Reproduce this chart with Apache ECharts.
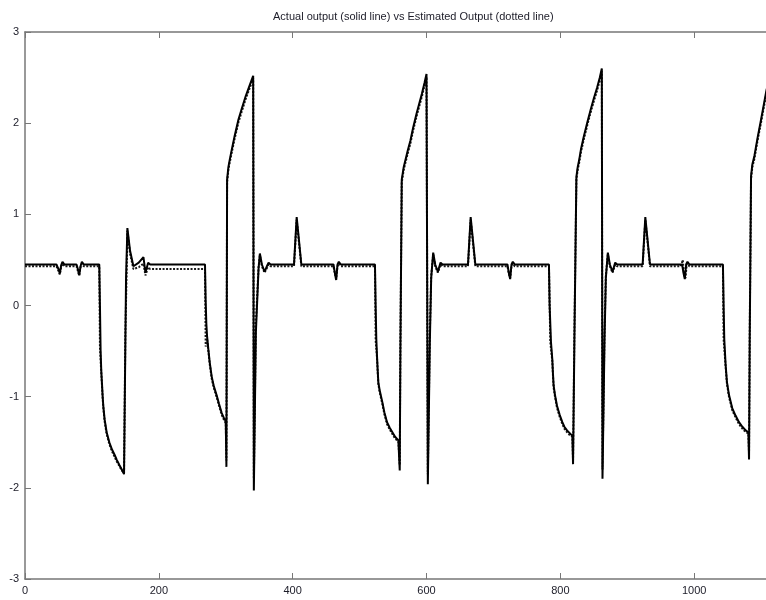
<!DOCTYPE html>
<html>
<head>
<meta charset="utf-8">
<script src="https://cdn.jsdelivr.net/npm/echarts@6/dist/echarts.min.js"></script>
<style>
  html, body { margin: 0; padding: 0; background: #fff; }
  #chart { width: 766px; height: 600px; }
</style>
</head>
<body>
<div id="chart"></div>
<script>
// Plot title
const chartTitle = 'Actual output (solid line) vs Estimated Output (dotted line)';

// Axis ranges and tick spacing
const xRange = [0, 1200];
const xStep = 200;
const yRange = [-3, 3];
const yStep = 1;

// Measured plant output: [sample, value]
const actualOutput = [
  [0, 0.45], [47, 0.45], [50, 0.40], [52, 0.35], [54, 0.44], [56, 0.48], [59, 0.45],
  [77, 0.45], [79, 0.40], [81, 0.33], [83, 0.43], [85, 0.48], [88, 0.45],
  [111, 0.45], [112, 0.0], [113, -0.5], [114, -0.72], [115, -0.85], [116, -0.99], [117, -1.10],
  [119, -1.25], [122, -1.39], [126, -1.50], [130, -1.58], [134, -1.64], [137, -1.69],
  [141, -1.75], [144, -1.79], [148, -1.85],
  [150, -0.4], [151, 0.3], [153, 0.85], [157, 0.6], [162, 0.43], [170, 0.47], [177, 0.53],
  [180, 0.36], [184, 0.47], [187, 0.45],
  [269, 0.45], [270, 0.05], [271, -0.2], [272, -0.33], [274, -0.48], [276, -0.62], [279, -0.78],
  [282, -0.88], [287, -1.0], [290, -1.08], [294, -1.18], [297, -1.23], [300, -1.27], [301, -1.77],
  [302, 1.38], [304, 1.52], [306, 1.6], [309, 1.71], [313, 1.85], [319, 2.04], [324, 2.16],
  [330, 2.3], [336, 2.42], [341, 2.52],
  [342, -2.03], [345, -0.3], [349, 0.4], [351, 0.57], [354, 0.45], [358, 0.37], [362, 0.44], [364, 0.47], [367, 0.45],
  [402, 0.45], [406, 0.97], [413, 0.45],
  [461, 0.45], [463, 0.36], [465, 0.28], [467, 0.45], [469, 0.48], [472, 0.45],
  [523, 0.45], [524, 0.0], [525, -0.37], [526, -0.55], [527, -0.70], [528, -0.84], [530, -0.93],
  [534, -1.06], [537, -1.17], [541, -1.28], [545, -1.34], [549, -1.39], [553, -1.44], [558, -1.48], [560, -1.81],
  [561, -0.5], [563, 1.38], [566, 1.52], [568, 1.58], [572, 1.70], [576, 1.81], [580, 1.95],
  [585, 2.1], [589, 2.21], [593, 2.32], [597, 2.44], [600, 2.54],
  [602, -1.96], [605, -0.4], [607, 0.3], [610, 0.58], [613, 0.45], [617, 0.37], [621, 0.47], [624, 0.45],
  [662, 0.45], [666, 0.97], [673, 0.45],
  [721, 0.45], [723, 0.36], [725, 0.29], [727, 0.45], [729, 0.48], [732, 0.45],
  [783, 0.45], [784, 0.0], [786, -0.4], [788, -0.59], [789, -0.75], [790, -0.88], [792, -0.98],
  [795, -1.1], [799, -1.2], [803, -1.28], [806, -1.33], [810, -1.37], [814, -1.40], [818, -1.43], [819, -1.74],
  [821, -0.4], [824, 1.41], [826, 1.52], [828, 1.59], [831, 1.72], [835, 1.85], [840, 2.0],
  [845, 2.14], [850, 2.27], [855, 2.39], [859, 2.5], [862, 2.6],
  [863, -1.9], [866, -0.4], [868, 0.3], [871, 0.58], [874, 0.45], [878, 0.37], [882, 0.47], [885, 0.45],
  [923, 0.45], [927, 0.97], [934, 0.45],
  [982, 0.45], [984, 0.36], [986, 0.29], [988, 0.45], [990, 0.48], [993, 0.45],
  [1043, 0.45], [1044, 0.0], [1045, -0.37], [1047, -0.65], [1049, -0.84], [1052, -0.98], [1057, -1.13],
  [1062, -1.21], [1067, -1.28], [1072, -1.33], [1077, -1.37], [1081, -1.39], [1082, -1.69],
  [1083, -0.4], [1085, 1.42], [1087, 1.55], [1090, 1.64], [1095, 1.85], [1100, 2.04],
  [1104, 2.2], [1108, 2.36], [1113, 2.5], [1118, 2.62]
];

// Model estimate of the same output: [sample, value]
const estimatedOutput = [
  [0, 0.43], [47, 0.43], [50, 0.38], [52, 0.34], [54, 0.42], [56, 0.46], [59, 0.43],
  [77, 0.43], [79, 0.38], [81, 0.33], [83, 0.42], [85, 0.46], [88, 0.43],
  [111, 0.43], [112, -0.46], [114, -0.74], [115, -0.87], [116, -1.01], [117, -1.12],
  [119, -1.27], [122, -1.41], [126, -1.52], [130, -1.60], [134, -1.66], [137, -1.71],
  [141, -1.76], [144, -1.80], [148, -1.84],
  [150, -0.3], [152, 0.4], [153, 0.82], [157, 0.57], [162, 0.40], [170, 0.42], [177, 0.46],
  [180, 0.33], [184, 0.42], [187, 0.40],
  [269, 0.40], [270, -0.45], [272, -0.36], [274, -0.50], [276, -0.64], [279, -0.80],
  [282, -0.90], [287, -1.02], [290, -1.10], [294, -1.20], [297, -1.25], [300, -1.29], [301, -1.70],
  [302, 1.35], [304, 1.49], [306, 1.57], [309, 1.68], [313, 1.82], [319, 2.01], [324, 2.13],
  [330, 2.27], [336, 2.39], [341, 2.49],
  [342, -1.90], [345, -0.2], [349, 0.42], [351, 0.55], [354, 0.43], [358, 0.36], [362, 0.42], [364, 0.45], [367, 0.43],
  [402, 0.43], [406, 0.94], [413, 0.43],
  [461, 0.43], [463, 0.35], [465, 0.29], [467, 0.43], [469, 0.46], [472, 0.43],
  [523, 0.43], [524, -0.38], [526, -0.57], [527, -0.72], [528, -0.86], [530, -0.95],
  [534, -1.08], [537, -1.19], [541, -1.30], [545, -1.36], [549, -1.41], [553, -1.46], [558, -1.49], [560, -1.75],
  [561, -0.4], [563, 1.35], [566, 1.49], [568, 1.55], [572, 1.67], [576, 1.78], [580, 1.92],
  [585, 2.07], [589, 2.18], [593, 2.29], [597, 2.41], [600, 2.51],
  [602, -1.85], [605, -0.3], [607, 0.32], [610, 0.56], [613, 0.43], [617, 0.36], [621, 0.45], [624, 0.43],
  [662, 0.43], [666, 0.94], [673, 0.43],
  [721, 0.43], [723, 0.35], [725, 0.30], [727, 0.43], [729, 0.46], [732, 0.43],
  [783, 0.43], [785, -0.40], [788, -0.61], [789, -0.77], [790, -0.90], [792, -1.00],
  [795, -1.12], [799, -1.22], [803, -1.30], [806, -1.35], [810, -1.39], [814, -1.42], [818, -1.44], [819, -1.70],
  [821, -0.3], [824, 1.38], [826, 1.49], [828, 1.56], [831, 1.69], [835, 1.82], [840, 1.97],
  [845, 2.11], [850, 2.24], [855, 2.36], [859, 2.47], [862, 2.57],
  [863, -1.80], [866, -0.3], [868, 0.32], [871, 0.56], [874, 0.43], [878, 0.36], [882, 0.45], [885, 0.43],
  [923, 0.43], [927, 0.94], [934, 0.43],
  [980, 0.43], [983, 0.50], [985, 0.33], [987, 0.30], [989, 0.46], [993, 0.43],
  [1043, 0.43], [1044, -0.37], [1047, -0.67], [1049, -0.86], [1052, -1.00], [1057, -1.15],
  [1062, -1.23], [1067, -1.30], [1072, -1.35], [1077, -1.39], [1081, -1.40], [1082, -1.62],
  [1083, -0.3], [1085, 1.39], [1087, 1.52], [1090, 1.61], [1095, 1.82], [1100, 2.01],
  [1104, 2.17], [1108, 2.33], [1113, 2.47], [1118, 2.59]
];

const frameColor = '#777777';
const fontFamily = 'Liberation Sans, Arial, sans-serif';
const textColor = '#1c1c28';

function frameAxis(position, showLabels) {
  return {
    type: 'value',
    position: position,
    axisLine: { show: true, onZero: false, lineStyle: { color: frameColor, width: 1.5 } },
    axisTick: { show: true, inside: true, length: 6, lineStyle: { color: frameColor, width: 1 } },
    axisLabel: {
      show: showLabels,
      margin: 6,
      showMaxLabel: position !== 'bottom',
      fontFamily: fontFamily,
      fontSize: 11,
      color: textColor,
      formatter: function (v) { return String(v); }
    },
    splitLine: { show: false }
  };
}

const xBottom = Object.assign(frameAxis('bottom', true), { min: xRange[0], max: xRange[1], interval: xStep });
const xTop = Object.assign(frameAxis('top', false), { min: xRange[0], max: xRange[1], interval: xStep });
const yLeft = Object.assign(frameAxis('left', true), { min: yRange[0], max: yRange[1], interval: yStep });
const yRight = Object.assign(frameAxis('right', false), { min: yRange[0], max: yRange[1], interval: yStep });

const chart = echarts.init(document.getElementById('chart'), null, { renderer: 'canvas' });
chart.setOption({
  animation: false,
  backgroundColor: '#ffffff',
  title: {
    text: chartTitle,
    left: 273,
    top: 11,
    padding: 0,
    textStyle: { fontFamily: fontFamily, fontSize: 11, fontWeight: 'normal', color: textColor }
  },
  // The frame runs past the right edge of the page; the 1200 end of the axis lies outside the view.
  grid: { left: 25, top: 32, width: 803, height: 547, containLabel: false, outerBoundsMode: 'none' },
  xAxis: [xBottom, xTop],
  yAxis: [yLeft, yRight],
  series: [
    {
      name: 'Estimated Output',
      type: 'line',
      data: estimatedOutput,
      showSymbol: false,
      lineStyle: { color: '#1a1a1a', width: 2, type: [2, 1.5] },
      z: 2
    },
    {
      name: 'Actual output',
      type: 'line',
      data: actualOutput,
      showSymbol: false,
      lineStyle: { color: '#000000', width: 2 },
      z: 3
    }
  ]
});
</script>
</body>
</html>
